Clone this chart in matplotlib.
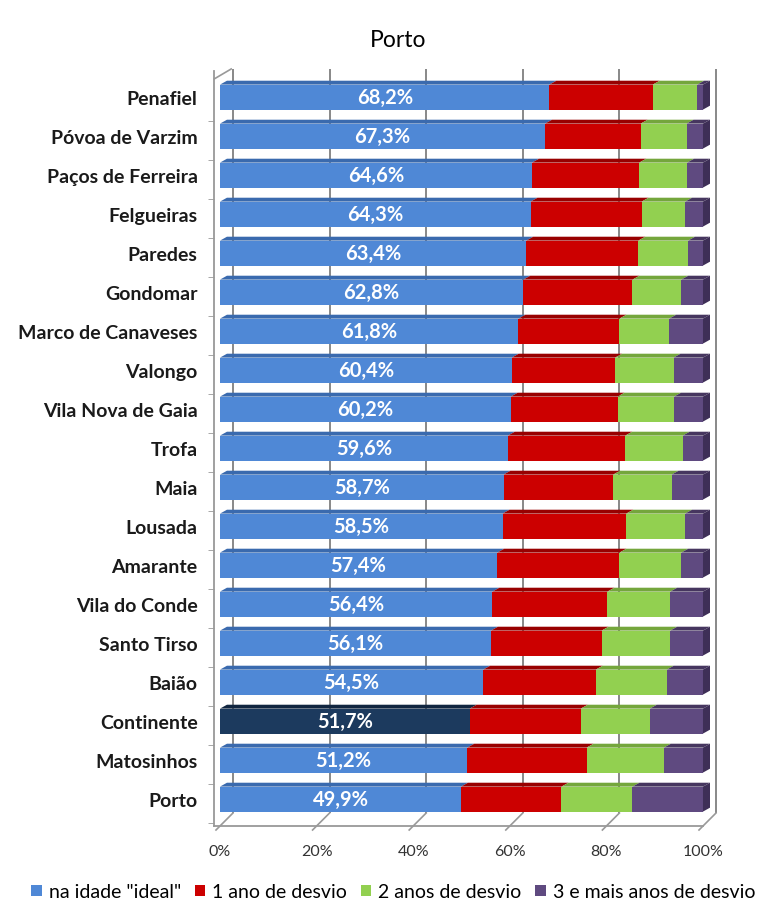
import matplotlib.pyplot as plt
from matplotlib.patches import Polygon
import numpy as np

concelhos = ['Penafiel', 'Póvoa de Varzim', 'Paços de Ferreira', 'Felgueiras', 'Paredes',
             'Gondomar', 'Marco de Canaveses', 'Valongo', 'Vila Nova de Gaia', 'Trofa',
             'Maia', 'Lousada', 'Amarante', 'Vila do Conde', 'Santo Tirso', 'Baião',
             'Continente', 'Matosinhos', 'Porto']
ideal = [68.2, 67.3, 64.6, 64.3, 63.4, 62.8, 61.8, 60.4, 60.2, 59.6,
         58.7, 58.5, 57.4, 56.4, 56.1, 54.5, 51.7, 51.2, 49.9]
desvio1 = [21.4, 19.8, 22.2, 23.0, 23.2, 22.6, 20.9, 21.4, 22.1, 24.3,
           22.7, 25.6, 25.3, 23.8, 22.9, 23.3, 23.0, 24.7, 20.8]
desvio2 = [9.2, 9.5, 9.9, 9.0, 10.3, 10.1, 10.3, 12.1, 11.7, 11.9,
           12.1, 12.2, 12.8, 13.0, 14.2, 14.7, 14.3, 16.0, 14.7]
desvio3 = [100 - a - b - c for a, b, c in zip(ideal, desvio1, desvio2)]

series = ['na idade "ideal"', '1 ano de desvio', '2 anos de desvio', '3 e mais anos de desvio']
cores = ['#4F88D6', '#CC0000', '#92D050', '#5F4A80']
cores_topo = ['#3A6AAE', '#980000', '#74A63C', '#46365F']
cor_continente = '#1C3A5E'
cor_continente_topo = '#112640'

plt.rcParams['font.family'] = ['Lato', 'DejaVu Sans']

fig = plt.figure(figsize=(7.71, 9.12), dpi=100)
ax = fig.add_axes([0.2778, 0.0932, 0.634, 0.8279])
x_min, x_max = -1.2, 100
y_fundo, y_cima = 18.69, -0.67

# parede de fundo e chao em perspetiva
px_x = (x_max - x_min) / 488.8   # unidades por pixel
px_y = (y_fundo - y_cima) / 755.0
gx, gy = 13 * px_x, 13 * px_y
marcas = np.arange(0, 101, 20)
ax.vlines(marcas + gx, y_fundo - gy, y_cima - 2 * px_y, color='#7f7f7f', lw=1.3,
          zorder=2, clip_on=False)
for t in marcas:
    ax.plot([t - 4 * px_x, t + gx], [y_fundo + 4 * px_y, y_fundo - gy], color='#999999', lw=1.2,
            zorder=2, clip_on=False)
ax.plot([x_min, x_min + gx + 4 * px_x], [y_cima + 8 * px_y, y_cima - 2 * px_y],
        color='#999999', lw=1.2, zorder=2, clip_on=False)

y = np.arange(len(concelhos))
h = 0.64
dx, dy = 1.45, 0.10  # profundidade 3D das barras
i_cont = concelhos.index('Continente')
left = np.zeros(len(concelhos))
for i, vals in enumerate([ideal, desvio1, desvio2, desvio3]):
    vals = np.array(vals)
    cor = [cores[i]] * len(concelhos)
    topo = [cores_topo[i]] * len(concelhos)
    if i == 0:
        cor[i_cont] = cor_continente
        topo[i_cont] = cor_continente_topo
    ax.barh(y, vals, left=left, height=h, color=cor, label=series[i], zorder=3)
    for yi, l, v, c in zip(y, left, vals, topo):
        yt = yi - h / 2
        ax.add_patch(Polygon([(l, yt), (l + dx, yt - dy), (l + v + dx, yt - dy), (l + v, yt)],
                             closed=True, facecolor=c, edgecolor='none', zorder=3,
                             clip_on=False))
    left = left + vals

# face lateral das barras
for yi in y:
    pts = [(100, yi - h / 2), (100 + dx, yi - h / 2 - dy),
           (100 + dx, yi + h / 2 - dy), (100, yi + h / 2)]
    ax.add_patch(Polygon(pts, closed=True, facecolor='#3E2F57', edgecolor='none', zorder=3,
                         clip_on=False))

for yi, v in zip(y, ideal):
    ax.text(v / 2, yi, f'{v:.1f}%'.replace('.', ','), ha='center', va='center',
            color='white', fontsize=14.5, fontweight='bold', zorder=4)

ax.set_xlim(x_min, x_max)
ax.set_ylim(y_fundo, y_cima)
ax.set_yticks(y)
ax.set_yticklabels(concelhos, fontsize=14, fontweight='bold', color='#1a1a1a')
ax.set_yticks(y + 0.62, minor=True)
ax.set_xticks(marcas)
ax.set_xticklabels([f'{t}%' for t in marcas], fontsize=11.5, color='#333333')
ax.tick_params(axis='y', which='major', length=0, pad=12)
ax.tick_params(axis='y', which='minor', length=4, color='#999999')
ax.tick_params(axis='x', length=0, pad=13)
for s in ['top', 'right']:
    ax.spines[s].set_visible(False)
for s in ['left', 'bottom']:
    ax.spines[s].set_color('#999999')
    ax.spines[s].set_linewidth(1.3)

fig.text(0.516, 0.956, 'Porto', ha='center', va='center', fontsize=16.5)

fig.legend(handles=ax.containers, labels=series, loc='center', bbox_to_anchor=(0.51, 0.021),
           ncol=4, frameon=False, fontsize=14, handlelength=0.55, handleheight=0.55,
           handletextpad=0.35, columnspacing=0.7, borderaxespad=0)

plt.savefig('out.png', dpi=100)
